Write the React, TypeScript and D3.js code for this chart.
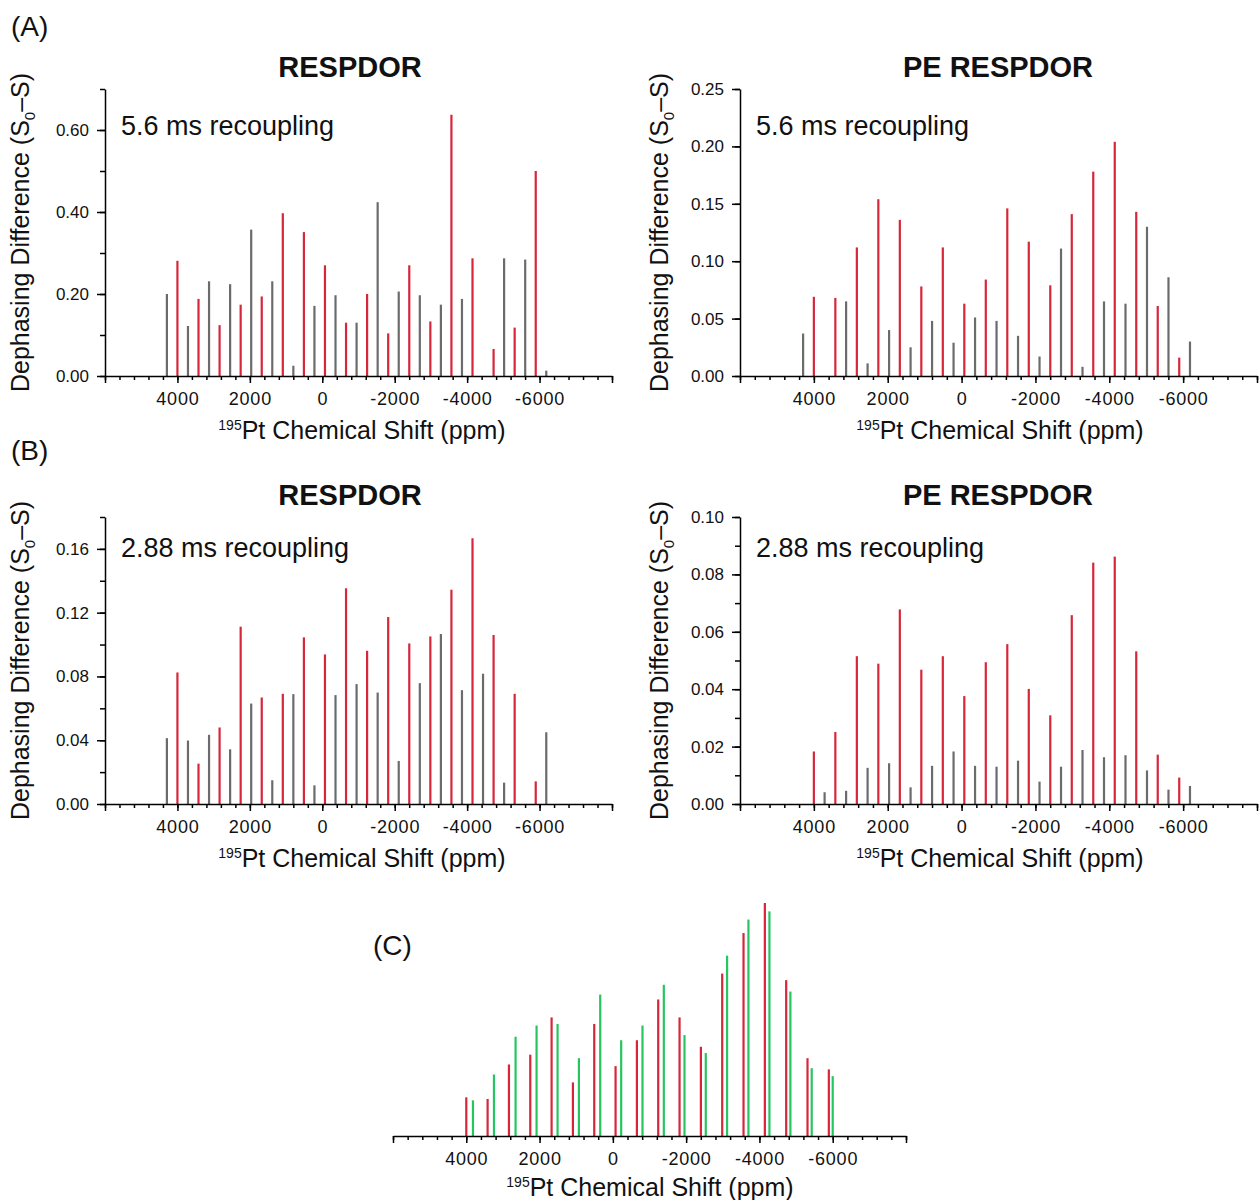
import * as d3 from 'd3';
import React, { useRef, useEffect } from 'react';

// 195Pt sideband positions (ppm)
const redShifts = [4000, 3418, 2836, 2254, 1672, 1090, 508, -74, -656, -1238, -1820, -2402, -2984, -3566, -4148, -4730, -5312, -5894];
const grayShifts = [4291, 3709, 3127, 2545, 1963, 1381, 799, 217, -365, -947, -1529, -2111, -2693, -3275, -3857, -4439, -5021, -5603, -6185];
const greenShifts = [3818, 3245, 2655, 2082, 1509, 927, 345, -227, -809, -1391, -1955, -2536, -3118, -3700, -4273, -4845, -5427, -6000];

const xTickLabels = [4000, 2000, 0, -2000, -4000, -6000];

// (A) 5.6 ms recoupling
const respdorLongRed = [0.281, 0.188, 0.124, 0.174, 0.194, 0.397, 0.351, 0.270, 0.130, 0.200, 0.104, 0.270, 0.133, 0.637, 0.287, 0.066, 0.118, 0.500];
const respdorLongGray = [0.200, 0.122, 0.231, 0.224, 0.357, 0.231, 0.025, 0.171, 0.197, 0.130, 0.424, 0.206, 0.197, 0.174, 0.188, 0, 0.287, 0.284, 0.013];
const peLongRed = [0.069, 0.068, 0.112, 0.154, 0.136, 0.078, 0.112, 0.063, 0.084, 0.146, 0.117, 0.079, 0.141, 0.178, 0.204, 0.143, 0.061, 0.016];
const peLongGray = [0.037, 0, 0.065, 0.011, 0.040, 0.025, 0.048, 0.029, 0.051, 0.048, 0.035, 0.017, 0.111, 0.008, 0.065, 0.063, 0.130, 0.086, 0.030];

// (B) 2.88 ms recoupling
const respdorShortRed = [0.0825, 0.0253, 0.0480, 0.1112, 0.0668, 0.0691, 0.1045, 0.0938, 0.1353, 0.0961, 0.1173, 0.1007, 0.1051, 0.1344, 0.1667, 0.1060, 0.0691, 0.0142];
const respdorShortGray = [0.0413, 0.0398, 0.0434, 0.0343, 0.0630, 0.0149, 0.0689, 0.0117, 0.0683, 0.0752, 0.0699, 0.0270, 0.0758, 0.1066, 0.0714, 0.0817, 0.0134, 0, 0.0450];
const peShortRed = [0.0183, 0.0251, 0.0515, 0.0489, 0.0678, 0.0468, 0.0515, 0.0376, 0.0494, 0.0557, 0.0401, 0.0309, 0.0658, 0.0841, 0.0862, 0.0532, 0.0172, 0.0092];
const peShortGray = [0, 0.0041, 0.0046, 0.0126, 0.0142, 0.0058, 0.0133, 0.0183, 0.0133, 0.0130, 0.0151, 0.0078, 0.0130, 0.0188, 0.0163, 0.0170, 0.0117, 0.0050, 0.0063];

// (C) relative intensities
const patternRed = [0.166, 0.159, 0.307, 0.349, 0.509, 0.230, 0.481, 0.300, 0.411, 0.586, 0.509, 0.383, 0.697, 0.871, 1.000, 0.669, 0.334, 0.286];
const patternGreen = [0.153, 0.264, 0.426, 0.474, 0.481, 0.334, 0.607, 0.411, 0.474, 0.649, 0.433, 0.356, 0.774, 0.929, 0.964, 0.620, 0.291, 0.257];

// y ticks
const yTicksA1 = [0, 0.1, 0.2, 0.3, 0.4, 0.5, 0.6, 0.7];
const yLabelsA1 = [0, 0.2, 0.4, 0.6];
const yTicksA2 = [0, 0.05, 0.1, 0.15, 0.2, 0.25];
const yTicksB1 = [0, 0.02, 0.04, 0.06, 0.08, 0.1, 0.12, 0.14, 0.16, 0.18];
const yLabelsB1 = [0, 0.04, 0.08, 0.12, 0.16];
const yTicksB2 = [0, 0.01, 0.02, 0.03, 0.04, 0.05, 0.06, 0.07, 0.08, 0.09, 0.1];
const yLabelsB2 = [0, 0.02, 0.04, 0.06, 0.08, 0.1];

const RED = '#d7263a';
const GRAY = '#6b6b6b';
const GREEN = '#27c560';
const FONT = '"Liberation Sans", Arial, sans-serif';

function drawXAxis(svg, x, yPos, titleX, titleY) {
    const minor = d3.range(6000, -8001, -400);
    const major = minor.filter(d => d % 2000 === 0);
    svg.append('g')
        .attr('transform', `translate(0,${yPos})`)
        .call(d3.axisBottom(x).tickValues(minor).tickSize(4).tickSizeOuter(0).tickFormat(() => ''))
        .call(g => g.selectAll('line, path').attr('stroke', '#000').attr('stroke-width', 1.5));
    svg.append('g')
        .attr('transform', `translate(0,${yPos})`)
        .call(d3.axisBottom(x).tickValues(major).tickSize(7).tickSizeOuter(0).tickPadding(9)
            .tickFormat(d => xTickLabels.includes(d) ? String(d) : ''))
        .call(g => g.select('.domain').remove())
        .call(g => g.selectAll('line').attr('stroke', '#000').attr('stroke-width', 1.5))
        .call(g => g.selectAll('text').attr('font-family', FONT).attr('font-size', 18)
            .attr('letter-spacing', 0.8).attr('fill', '#111'));

    const t = svg.append('text')
        .attr('x', titleX).attr('y', titleY)
        .attr('text-anchor', 'middle')
        .attr('font-family', FONT).attr('fill', '#111');
    t.append('tspan').attr('font-size', 14).attr('dy', -9).text('195');
    t.append('tspan').attr('font-size', 25).attr('dy', 9).text('Pt Chemical Shift (ppm)');
}

function drawBars(svg, x, y, shifts, values, color) {
    const pts = shifts.map((p, i) => ({ p, v: values[i] })).filter(d => d.v > 0);
    svg.append('g').selectAll('line')
        .data(pts)
        .enter()
        .append('line')
        .attr('x1', d => x(d.p)).attr('x2', d => x(d.p))
        .attr('y1', y(0)).attr('y2', d => y(d.v))
        .attr('stroke', color)
        .attr('stroke-width', 2.2);
}

function drawPanel(svg, p) {
    const x = d3.scaleLinear().domain([6000, -8000]).range([p.left, p.right]);
    const y = d3.scaleLinear().domain([0, p.yMax]).range([p.bottom, p.top]);

    drawBars(svg, x, y, grayShifts, p.gray, GRAY);
    drawBars(svg, x, y, redShifts, p.red, RED);

    // y axis
    svg.append('g')
        .attr('transform', `translate(${p.left},0)`)
        .call(d3.axisLeft(y).tickValues(p.yTicks).tickSize(5).tickSizeOuter(0).tickFormat(() => ''))
        .call(g => g.selectAll('line, path').attr('stroke', '#000').attr('stroke-width', 1.5));
    svg.append('g')
        .attr('transform', `translate(${p.left},0)`)
        .call(d3.axisLeft(y).tickValues(p.yLabels).tickSize(8).tickPadding(8).tickFormat(d3.format('.2f')))
        .call(g => g.select('.domain').remove())
        .call(g => g.selectAll('line').attr('stroke', '#000').attr('stroke-width', 1.5))
        .call(g => g.selectAll('text').attr('font-family', FONT).attr('font-size', 17).attr('fill', '#111'));

    drawXAxis(svg, x, p.bottom, p.xTitleX, p.bottom + 63);

    // y title
    const yt = svg.append('text')
        .attr('transform', `translate(${p.yTitleX},${(p.top + p.bottom) / 2}) rotate(-90)`)
        .attr('text-anchor', 'middle')
        .attr('font-family', FONT).attr('font-size', 25).attr('fill', '#111');
    yt.append('tspan').text('Dephasing Difference (S');
    yt.append('tspan').attr('font-size', 15).attr('dy', 6).text('0');
    yt.append('tspan').attr('dy', -6).text('\u2013S)');

    svg.append('text')
        .attr('x', p.titleX).attr('y', p.top - 12)
        .attr('text-anchor', 'middle')
        .attr('font-family', FONT).attr('font-size', 29).attr('font-weight', 'bold')
        .attr('fill', '#111')
        .text(p.title);

    svg.append('text')
        .attr('x', p.left + 16).attr('y', p.noteY)
        .attr('font-family', FONT).attr('font-size', 27).attr('fill', '#111')
        .text(p.note);
}

function App() {
    const ref = useRef(null);

    useEffect(() => {
        const svg = d3.select(ref.current);
        svg.selectAll('*').remove();

        const panels = [
            { left: 105, right: 612, top: 89, bottom: 376, yMax: 0.7, yTicks: yTicksA1, yLabels: yLabelsA1,
              red: respdorLongRed, gray: respdorLongGray, title: 'RESPDOR', titleX: 350, note: '5.6 ms recoupling',
              noteY: 135, yTitleX: 29, xTitleX: 362 },
            { left: 740, right: 1257, top: 89, bottom: 376, yMax: 0.25, yTicks: yTicksA2, yLabels: yTicksA2,
              red: peLongRed, gray: peLongGray, title: 'PE RESPDOR', titleX: 998, note: '5.6 ms recoupling',
              noteY: 135, yTitleX: 668, xTitleX: 1000 },
            { left: 105, right: 612, top: 517, bottom: 804, yMax: 0.18, yTicks: yTicksB1, yLabels: yLabelsB1,
              red: respdorShortRed, gray: respdorShortGray, title: 'RESPDOR', titleX: 350, note: '2.88 ms recoupling',
              noteY: 557, yTitleX: 29, xTitleX: 362 },
            { left: 740, right: 1257, top: 517, bottom: 804, yMax: 0.10, yTicks: yTicksB2, yLabels: yLabelsB2,
              red: peShortRed, gray: peShortGray, title: 'PE RESPDOR', titleX: 998, note: '2.88 ms recoupling',
              noteY: 557, yTitleX: 668, xTitleX: 1000 },
        ];
        panels.forEach(p => drawPanel(svg, p));

        // panel C
        const xc = d3.scaleLinear().domain([6000, -8000]).range([393, 906]);
        const yc = d3.scaleLinear().domain([0, 1]).range([1136, 903]);
        drawBars(svg, xc, yc, redShifts, patternRed, RED);
        drawBars(svg, xc, yc, greenShifts, patternGreen, GREEN);
        drawXAxis(svg, xc, 1136, 650, 1196);

        const labels = [['(A)', 11, 36], ['(B)', 11, 460], ['(C)', 373, 955]];
        svg.selectAll('text.panel-label')
            .data(labels)
            .enter()
            .append('text')
            .attr('class', 'panel-label')
            .attr('x', d => d[1]).attr('y', d => d[2])
            .attr('font-family', FONT).attr('font-size', 28).attr('fill', '#111')
            .text(d => d[0]);
    }, []);

    return (
        <svg ref={ref} width={1260} height={1200}
            style={{ position: 'absolute', left: 0, top: 0, background: '#fff' }} />
    );
}

export default App;
